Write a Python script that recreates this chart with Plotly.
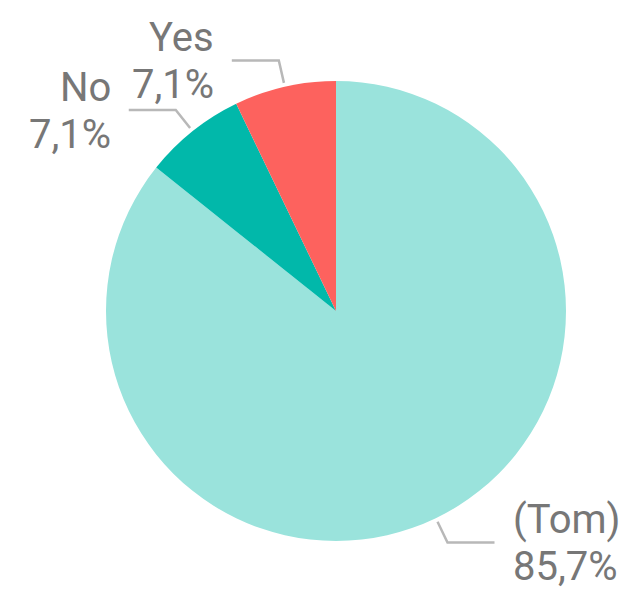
import math
import plotly.graph_objects as go

labels = ["Yes", "No", "(Tom)"]
values = [1, 1, 12]
colors = ["#FD625E", "#01B8AA", "#9AE3DC"]

# page body has an 8px margin, so the figure is drawn 8px in from the window corner
OFF = 8
W, H = 630 - OFF, 592 - OFF
cx, cy, r = 336 - OFF, 311 - OFF, 230

fig = go.Figure()
# slices run counterclockwise from 12 o'clock, so feed them reversed in clockwise order
fig.add_trace(go.Pie(
    labels=labels[::-1],
    values=values[::-1],
    marker=dict(colors=colors[::-1], line=dict(width=0)),
    sort=False,
    direction="clockwise",
    textinfo="none",
    showlegend=False,
    domain=dict(x=[(cx - r) / W, (cx + r) / W], y=[1 - (cy + r) / H, 1 - (cy - r) / H]),
))

# leader lines and labels, placed from each slice's mid angle
total = sum(values)
shapes = []
annotations = []
cum = 0
for lab, v in zip(labels, values):
    frac = v / total
    theta = 2 * math.pi * (cum + frac / 2)
    cum += frac
    sx, sy = -math.sin(theta), -math.cos(theta)
    p0 = (cx + (r + 4) * sx, cy + (r + 4) * sy)
    p1 = (cx + (r + 27) * sx, cy + (r + 27) * sy)
    side = -1 if sx < 0 else 1
    p2 = (p1[0] + side * 47, p1[1])
    path = "M {} {} L {} {} L {} {}".format(
        p0[0] / W, 1 - p0[1] / H, p1[0] / W, 1 - p1[1] / H, p2[0] / W, 1 - p2[1] / H)
    shapes.append(dict(type="path", xref="paper", yref="paper", path=path,
                       line=dict(color="#B8B8B8", width=2.5)))
    pct = "{:.1f}%".format(frac * 100).replace(".", ",")
    tx = p2[0] + side * 16
    for txt, dy in [(lab, -23), (pct, 24)]:
        annotations.append(dict(
            x=tx / W, y=1 - (p2[1] + dy) / H, xref="paper", yref="paper",
            text=txt, showarrow=False,
            xanchor="right" if side < 0 else "left", yanchor="middle",
            font=dict(family="Roboto", size=40, color="#777777"),
        ))

fig.update_layout(
    width=W,
    height=H,
    margin=dict(l=0, r=0, t=0, b=0),
    paper_bgcolor="white",
    plot_bgcolor="white",
    shapes=shapes,
    annotations=annotations,
)

fig.write_html("out.html")
